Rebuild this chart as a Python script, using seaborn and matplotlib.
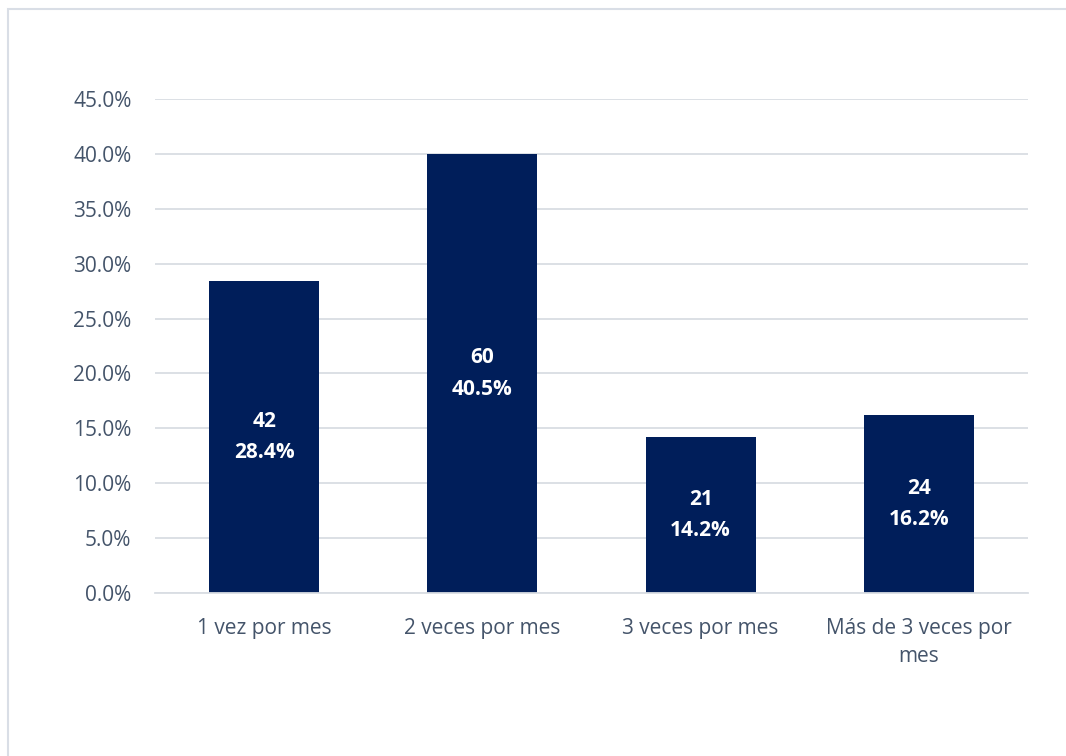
import matplotlib
matplotlib.use("Agg")
import matplotlib.pyplot as plt
import seaborn as sns
import pandas as pd
from matplotlib.patches import Rectangle
from matplotlib.ticker import FuncFormatter

categories = ["1 vez por mes", "2 veces por mes", "3 veces por mes", "Más de 3 veces por\nmes"]
counts = [42, 60, 21, 24]
label_percents = [28.4, 40.5, 14.2, 16.2]
# bar heights as drawn in the picture
bar_heights = [28.4, 40.0, 14.2, 16.2]

sns.set_theme(style="white")
plt.rcParams['font.family'] = ['Open Sans', 'DejaVu Sans']

df = pd.DataFrame({"cat": categories, "pct": bar_heights, "n": counts})

fig = plt.figure(figsize=(10.66, 7.56), dpi=100)
ax = fig.add_axes([155/1066, (756-593)/756, (1028-155)/1066, (593-99)/756])

text_color = "#44546A"
grid_color = "#D9DDE3"

sns.barplot(data=df, x="cat", y="pct", color="#001E5A", width=0.505, ax=ax,
            saturation=1, edgecolor="none")

ax.set_ylim(0, 45)
ax.set_yticks([i * 5 for i in range(10)])
ax.yaxis.set_major_formatter(FuncFormatter(lambda v, p: f"{v:.1f}%"))
ax.grid(axis="y", color=grid_color, linewidth=1.3)
ax.set_axisbelow(True)
for s in ["top", "right", "left"]:
    ax.spines[s].set_visible(False)
ax.spines["bottom"].set_color(grid_color)
ax.spines["bottom"].set_linewidth(1.3)
ax.set_xlabel("")
ax.set_ylabel("")
ax.tick_params(axis="both", length=0, labelsize=15, colors=text_color)
ax.tick_params(axis="y", pad=17)
ax.tick_params(axis="x", pad=18)
for t in ax.get_xticklabels():
    t.set_linespacing(1.45)
ax.set_xlim(-0.5, 3.5)

for i, (n, p, h) in enumerate(zip(counts, label_percents, bar_heights)):
    ax.text(i, h / 2, f"{n}\n{p:.1f}%", ha="center", va="center", color="white",
            fontsize=15, fontweight="bold", linespacing=1.65)

fig.patches.append(Rectangle((8/1066, -20/756), 1100/1066, (747+20)/756,
                             transform=fig.transFigure, fill=False,
                             edgecolor="#D9DEE6", linewidth=1.5))

fig.savefig("out.png", dpi=100, facecolor="white")
